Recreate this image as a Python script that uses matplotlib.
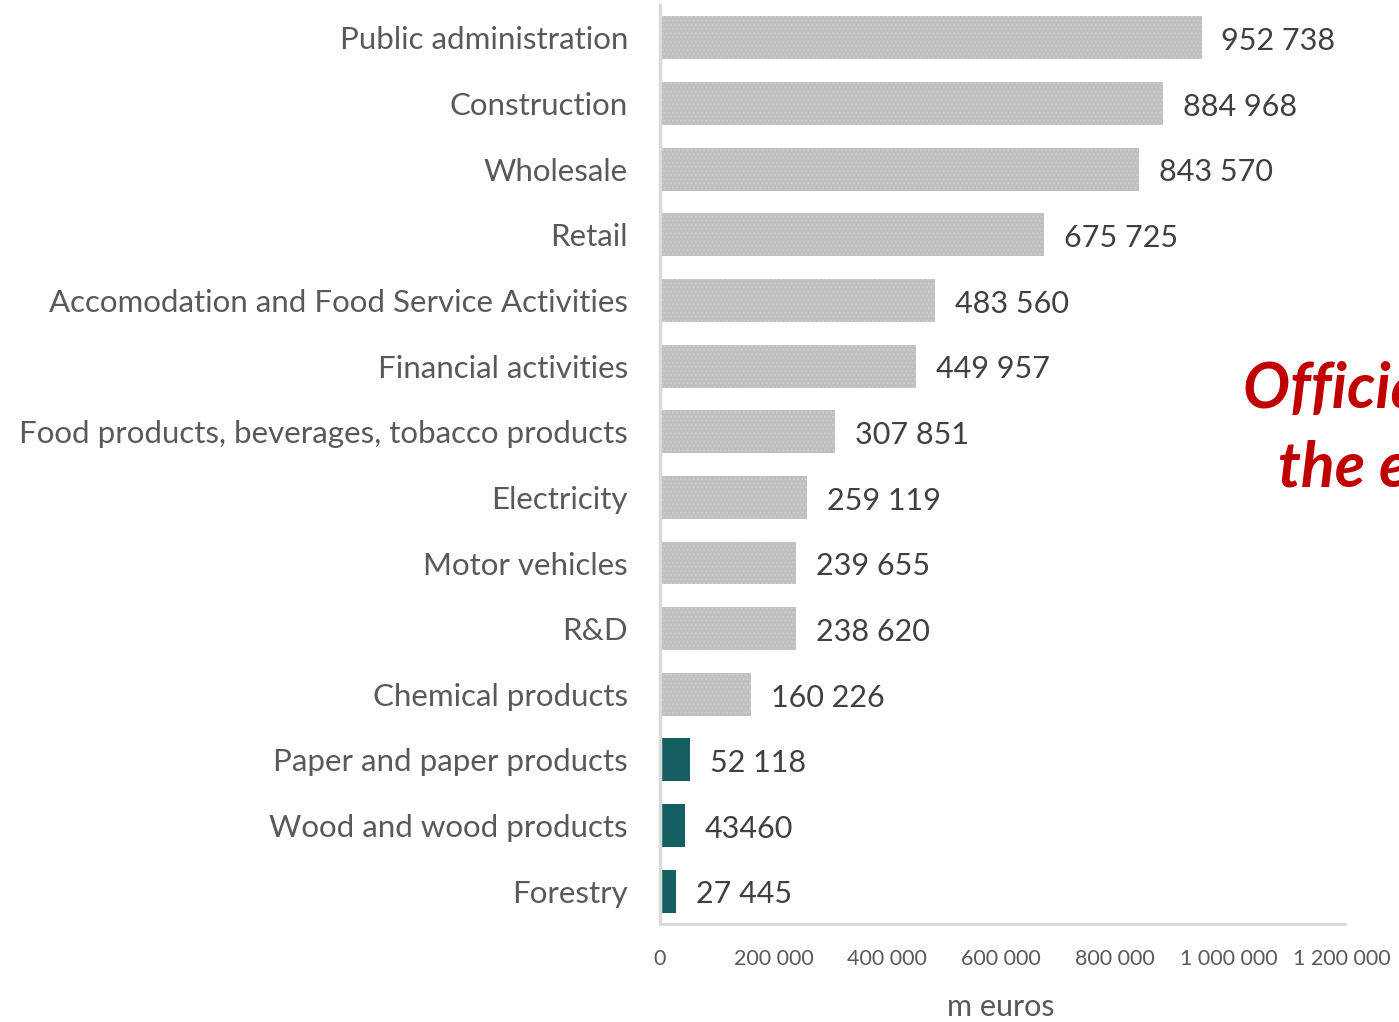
import numpy as np
import matplotlib.pyplot as plt

plt.rcParams['font.family'] = ['Lato', 'DejaVu Sans']

# sectors, top to bottom
sectors = ['Public administration', 'Construction', 'Wholesale', 'Retail',
           'Accomodation and Food Service Activities', 'Financial activities',
           'Food products, beverages, tobacco products', 'Electricity',
           'Motor vehicles', 'R&D', 'Chemical products',
           'Paper and paper products', 'Wood and wood products', 'Forestry']
values = [952738, 884968, 843570, 675725, 483560, 449957, 307851,
          259119, 239655, 238620, 160226, 52118, 43460, 27445]
value_labels = ['952 738', '884 968', '843 570', '675 725', '483 560', '449 957',
                '307 851', '259 119', '239 655', '238 620', '160 226', '52 118',
                '43460', '27 445']
forest_sectors = ['Paper and paper products', 'Wood and wood products', 'Forestry']
xticks = [0, 200000, 400000, 600000, 800000, 1000000, 1200000]
xtick_labels = ['0', '200 000', '400 000', '600 000', '800 000', '1 000 000', '1 200 000']

grey = '#bfbfbf'
teal = '#155f62'
text_grey = '#595959'

fig = plt.figure(figsize=(13.99, 10.22), dpi=100)
ax = fig.add_axes([0.4718, 0.0959, 0.4875, 0.8991])

y = np.arange(len(sectors))
for yi, name, v, lab in zip(y, sectors, values, value_labels):
    if name in forest_sectors:
        ax.barh(yi, v, height=0.655, color=teal, linewidth=0)
    else:
        ax.barh(yi, v, height=0.655, color=grey, edgecolor='#cdcdcd',
                hatch='....', linewidth=0)
    ax.text(v + 35000, yi + 0.05, lab, va='center', ha='left',
            fontsize=22, color='#404040')

ax.set_ylim(len(sectors) - 0.5, -0.5)
ax.set_xlim(0, 1200000)
ax.set_yticks(y)
ax.set_yticklabels(sectors, fontsize=22.5, color=text_grey)
ax.set_xticks(xticks)
ax.set_xticklabels(xtick_labels, fontsize=15.5, color=text_grey)
ax.tick_params(axis='y', length=0, pad=23)
ax.tick_params(axis='x', length=0, pad=18)
ax.set_xlabel('m euros', fontsize=22, color=text_grey, labelpad=17)

for side in ['top', 'right']:
    ax.spines[side].set_visible(False)
ax.spines['left'].set_color('#d9d9d9')
ax.spines['left'].set_linewidth(2.5)
ax.spines['bottom'].set_color('#d9d9d9')
ax.spines['bottom'].set_linewidth(2)
ax.spines['bottom'].set_bounds(0, 1206000)

# red note running off the right edge
fig.text(0.8885, 0.6005, 'Official statistics', fontsize=45, color='#c00000',
         fontweight='bold', fontstyle='italic', ha='left', va='baseline')
fig.text(0.9135, 0.5235, 'the economy', fontsize=45, color='#c00000',
         fontweight='bold', fontstyle='italic', ha='left', va='baseline')

fig.savefig('out.png', dpi=100)
